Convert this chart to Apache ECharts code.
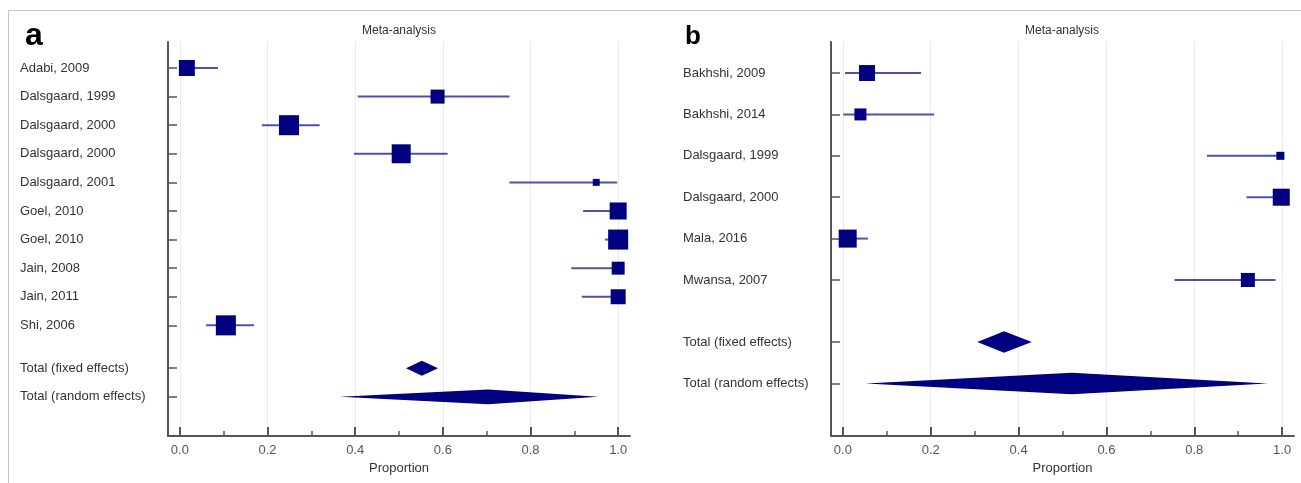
<!DOCTYPE html>
<html><head><meta charset="utf-8">
<script src="https://cdn.jsdelivr.net/npm/echarts@6/dist/echarts.min.js"></script>
<style>html,body{margin:0;padding:0;background:#fff}#c{width:1301px;height:483px}</style>
</head><body><div id="c"></div>
<script>
// ---------- Panel a ----------
const studiesA = ['Adabi, 2009','Dalsgaard, 1999','Dalsgaard, 2000','Dalsgaard, 2000','Dalsgaard, 2001','Goel, 2010','Goel, 2010','Jain, 2008','Jain, 2011','Shi, 2006'];
const propA   = [0.016, 0.588, 0.249, 0.505, 0.950, 1.000, 1.000, 1.000, 1.000, 0.105];
const lowA    = [0.000, 0.406, 0.187, 0.397, 0.752, 0.920, 0.970, 0.893, 0.917, 0.060];
const highA   = [0.087, 0.752, 0.319, 0.611, 0.998, 1.000, 1.000, 1.000, 1.000, 0.169];
const weightA = [12.6, 9.7, 19.8, 17.8, 2.4, 14.3, 19.8, 8.3, 11.1, 19.8];
const totalEstA  = [0.552, 0.703];
const totalLowA  = [0.516, 0.365];
const totalHighA = [0.589, 0.955];

// ---------- Panel b ----------
const studiesB = ['Bakhshi, 2009','Bakhshi, 2014','Dalsgaard, 1999','Dalsgaard, 2000','Mala, 2016','Mwansa, 2007'];
const propB   = [0.055, 0.040, 0.996, 0.998, 0.011, 0.922];
const lowB    = [0.005, 0.001, 0.829, 0.919, 0.000, 0.755];
const highB   = [0.178, 0.208, 1.000, 1.000, 0.057, 0.985];
const weightB = [12.6, 7.1, 3.2, 14.3, 16.0, 9.7];
const totalEstB  = [0.367, 0.521];
const totalLowB  = [0.306, 0.052];
const totalHighB = [0.430, 0.967];

const totalLabels = ['Total (fixed effects)', 'Total (random effects)'];
const xMajorTicks = [0, 0.2, 0.4, 0.6, 0.8, 1.0];
const xMinorTicks = [0.1, 0.3, 0.5, 0.7, 0.9];
const panelTitle = 'Meta-analysis';
const xName = 'Proportion';

const FONT = '"Liberation Sans", Arial, sans-serif';
const NAVY = '#000080';
const CI = '#4f4fb0';
const AXIS = '#555555';

function rowsFor(n) {
  const pos = [];
  for (let i = 0; i < n; i++) pos.push(i);
  pos.push(n + 0.5, n + 1.5);
  return pos;
}

function studyData(prop, low, high, w) {
  return prop.map((p, i) => [i, p, low[i], high[i], w[i]]);
}
function totalData(n, est, low, high) {
  return est.map((e, i) => [n + 0.5 + i, e, low[i], high[i]]);
}

function renderStudy(params, api) {
  const row = api.value(0), est = api.value(1), lo = api.value(2), hi = api.value(3), w = api.value(4);
  const pl = api.coord([lo, row]), ph = api.coord([hi, row]), pe = api.coord([est, row]);
  const s = 4.5 * Math.sqrt(w);
  return {
    type: 'group',
    children: [
      { type: 'line', shape: { x1: pl[0], y1: pl[1], x2: ph[0], y2: ph[1] }, style: { stroke: CI, lineWidth: 2 } },
      { type: 'rect', shape: { x: pe[0] - s / 2, y: pe[1] - s / 2, width: s, height: s }, style: { fill: NAVY } }
    ]
  };
}
function renderDiamond(params, api) {
  const row = api.value(0), est = api.value(1), lo = api.value(2), hi = api.value(3);
  const pl = api.coord([lo, row]), pe = api.coord([est, row]), ph = api.coord([hi, row]);
  const h = api.size([0, 1])[1] * 0.26;
  return {
    type: 'polygon',
    shape: { points: [[pl[0], pl[1]], [pe[0], pe[1] - h], [ph[0], ph[1]], [pe[0], pe[1] + h]] },
    style: { fill: NAVY }
  };
}

function makeAxes(gridIndex, names, yMin, yMax) {
  const rows = rowsFor(names.length - 2);
  const xMain = {
    type: 'value', gridIndex, min: -0.027, max: 1.027, position: 'bottom',
    name: xName, nameLocation: 'middle', nameGap: 25,
    nameTextStyle: { fontFamily: FONT, fontSize: 13, color: '#333' },
    axisLine: { onZero: false, lineStyle: { color: AXIS, width: 2 } },
    axisTick: { inside: true, length: 9, customValues: xMajorTicks, lineStyle: { color: AXIS, width: 2 } },
    axisLabel: { customValues: xMajorTicks, margin: 8, fontFamily: FONT, fontSize: 13, color: '#555',
      formatter: v => v.toFixed(1) },
    splitLine: { show: true, lineStyle: { color: '#ebebeb', width: 1 } }
  };
  const xMinor = {
    type: 'value', gridIndex, min: -0.027, max: 1.027, position: 'bottom',
    axisLine: { show: false, onZero: false },
    axisTick: { inside: true, length: 5, customValues: xMinorTicks, lineStyle: { color: AXIS, width: 1.5 } },
    axisLabel: { show: false },
    splitLine: { show: false }
  };
  const y = {
    type: 'value', gridIndex, inverse: true, min: yMin, max: yMax,
    axisLine: { onZero: false, lineStyle: { color: AXIS, width: 2 } },
    axisTick: { inside: true, length: 9, customValues: rows, lineStyle: { color: AXIS, width: 1.5 } },
    axisLabel: { customValues: rows, align: 'left', margin: 148, fontFamily: FONT, fontSize: 13, color: '#333',
      formatter: v => names[rows.indexOf(v)] || '' },
    splitLine: { show: false }
  };
  return { x: [xMain, xMinor], y };
}

const namesA = studiesA.concat(totalLabels);
const namesB = studiesB.concat(totalLabels);
const axA = makeAxes(0, namesA, -0.91, 12.87);
const axB = makeAxes(1, namesB, -0.75, 8.77);

const chart = echarts.init(document.getElementById('c'), null, { renderer: 'canvas' });
chart.setOption({
  animation: false,
  backgroundColor: '#fff',
  grid: [
    { left: 168, top: 42, width: 462, height: 394 },
    { left: 831, top: 42, width: 463, height: 394 }
  ],
  xAxis: [axA.x[0], axA.x[1], axB.x[0], axB.x[1]],
  yAxis: [axA.y, axB.y],
  series: [
    { type: 'custom', xAxisIndex: 0, yAxisIndex: 0, renderItem: renderStudy, encode: { x: 1, y: 0 },
      data: studyData(propA, lowA, highA, weightA) },
    { type: 'custom', xAxisIndex: 0, yAxisIndex: 0, renderItem: renderDiamond, encode: { x: 1, y: 0 },
      data: totalData(studiesA.length, totalEstA, totalLowA, totalHighA) },
    { type: 'custom', xAxisIndex: 2, yAxisIndex: 1, renderItem: renderStudy, encode: { x: 1, y: 0 },
      data: studyData(propB, lowB, highB, weightB) },
    { type: 'custom', xAxisIndex: 2, yAxisIndex: 1, renderItem: renderDiamond, encode: { x: 1, y: 0 },
      data: totalData(studiesB.length, totalEstB, totalLowB, totalHighB) }
  ],
  graphic: [
    { type: 'line', shape: { x1: 8, y1: 10.5, x2: 1301, y2: 10.5 }, style: { stroke: '#c4c4c4', lineWidth: 1 } },
    { type: 'line', shape: { x1: 8.5, y1: 10, x2: 8.5, y2: 483 }, style: { stroke: '#c4c4c4', lineWidth: 1 } },
    { type: 'text', x: 25, y: 36, style: { text: 'a', font: 'bold 32px ' + FONT, fill: '#000', textVerticalAlign: 'middle' } },
    { type: 'text', x: 685, y: 37, style: { text: 'b', font: 'bold 26px ' + FONT, fill: '#000', textVerticalAlign: 'middle' } },
    { type: 'text', x: 399, y: 31, style: { text: panelTitle, font: '12px ' + FONT, fill: '#333', textAlign: 'center', textVerticalAlign: 'middle' } },
    { type: 'text', x: 1062, y: 31, style: { text: panelTitle, font: '12px ' + FONT, fill: '#333', textAlign: 'center', textVerticalAlign: 'middle' } }
  ]
});
</script>
</body></html>
